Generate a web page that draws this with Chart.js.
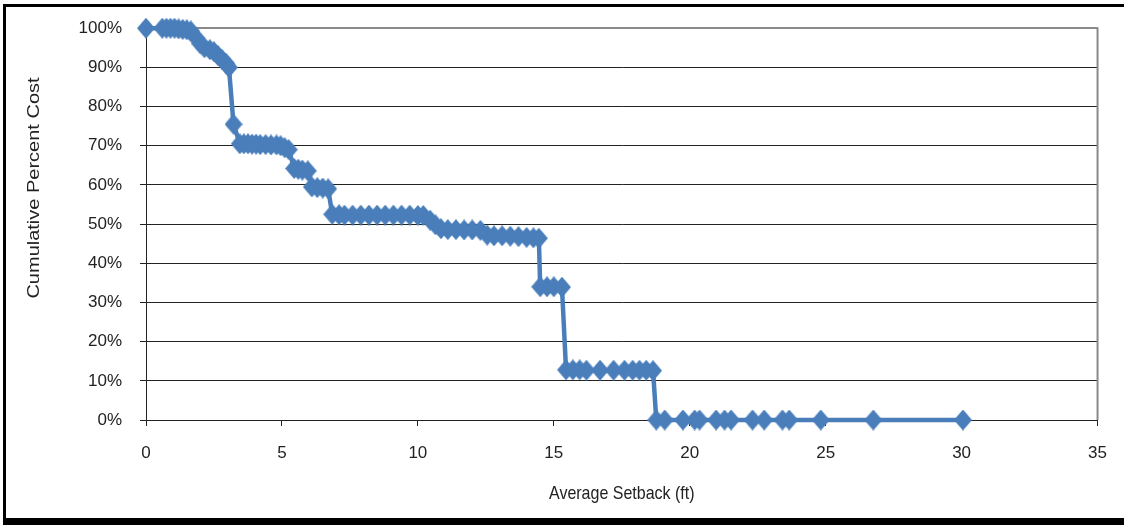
<!DOCTYPE html>
<html>
<head>
<meta charset="utf-8">
<script src="https://cdn.jsdelivr.net/npm/chart.js@4/dist/chart.umd.min.js"></script>
<style>
  html, body { margin: 0; padding: 0; background: #fff; overflow: hidden; }
  #frame {
    position: absolute; left: 3px; top: 4px;
    width: 1130px; height: 511px;
    border: 3px solid #000; border-bottom-width: 7px;
  }
  #chart { position: absolute; left: 0; top: 0; }
</style>
</head>
<body>
<div id="frame"></div>
<canvas id="chart" width="1124" height="525"></canvas>
<script>
// Average setback (ft) for each property, sorted
const setback = [
  0, 0.6, 0.75, 0.9, 1.05, 1.2, 1.35, 1.5, 1.65,
  1.85, 2.0, 2.15, 2.35, 2.5, 2.65, 2.8, 2.95, 3.05,
  3.22,
  3.45, 3.6, 3.75, 3.9, 4.05, 4.2, 4.4, 4.6, 4.8, 4.95, 5.1, 5.25,
  5.45, 5.6, 5.75, 5.95,
  6.1, 6.3, 6.5, 6.7,
  6.85, 7.1, 7.3, 7.6, 7.9, 8.2, 8.5, 8.8, 9.1, 9.4, 9.7, 10.0, 10.2,
  10.45, 10.65, 10.85, 11.1, 11.4, 11.7, 12.0, 12.3,
  12.55, 12.8, 13.1, 13.4, 13.7, 14.0, 14.25, 14.45,
  14.5, 14.75, 15.0, 15.3,
  15.45, 15.7, 15.95, 16.2, 16.7, 17.2, 17.6, 17.9, 18.15, 18.4, 18.65,
  18.77, 19.08, 19.75, 20.18, 20.36, 20.97, 21.28, 21.52, 22.31, 22.74,
  23.41, 23.66, 24.82, 26.75, 30.05
];

// Cumulative percent cost at each setback
const cumPercent = [
  100, 100, 100, 100, 100, 99.8, 99.7, 99.6, 99.3,
  97.5, 96, 95, 94.5, 94, 93, 92, 91, 90,
  75.5,
  70.5, 70.5, 70.5, 70.4, 70.4, 70.3, 70.3, 70.2, 70.2, 70, 69.5, 69,
  64.2, 64, 63.8, 63.6,
  59.5, 59.3, 59.2, 59,
  52.5, 52.4, 52.3, 52.3, 52.3, 52.3, 52.3, 52.3, 52.3, 52.3, 52.3, 52.2, 52.2,
  51, 49.8, 48.8, 48.6, 48.6, 48.5, 48.5, 48.4,
  47.2, 47, 47, 46.9, 46.8, 46.6, 46.5, 46.4,
  34, 34, 34, 33.9,
  12.8, 12.8, 12.8, 12.7, 12.7, 12.7, 12.7, 12.7, 12.7, 12.7, 12.6,
  0, 0, 0, 0, 0, 0, 0, 0, 0, 0,
  0, 0, 0, 0, 0
];

const xTitle = 'Average Setback (ft)';
const yTitle = 'Cumulative Percent Cost';

const blue = '#4a7ebb';
const ink = '#222222';
const frameGray = '#8a8a8a';
const family = '"Liberation Sans", Arial, sans-serif';
const tickFont = { family: family, size: 17 };
const titleFont = { family: family, size: 16 };

const points = setback.map((x, i) => ({ x: x, y: cumPercent[i] }));

// the original markers are diamonds a bit taller than wide
function diamond(w, h) {
  const c = document.createElement('canvas');
  c.width = w; c.height = h;
  const g = c.getContext('2d');
  g.fillStyle = blue;
  g.beginPath();
  g.moveTo(w / 2, 0);
  g.lineTo(w, h / 2);
  g.lineTo(w / 2, h);
  g.lineTo(0, h / 2);
  g.closePath();
  g.fill();
  return c;
}

// gray plot-area border on the right + axis titles (stretched like the original)
const plotExtras = {
  id: 'plotExtras',
  afterDraw(chart) {
    const { ctx, chartArea } = chart;
    ctx.save();
    ctx.strokeStyle = frameGray;
    ctx.lineWidth = 2;
    ctx.beginPath();
    ctx.moveTo(chartArea.right, chartArea.top - 1);
    ctx.lineTo(chartArea.right, chartArea.bottom);
    ctx.stroke();

    ctx.fillStyle = ink;
    ctx.font = titleFont.size + 'px ' + family;
    ctx.textAlign = 'center';
    ctx.textBaseline = 'middle';

    ctx.save();
    ctx.translate((chartArea.left + chartArea.right) / 2, 494);
    ctx.scale(1, 1.2);
    ctx.fillText(xTitle, 0, 0);
    ctx.restore();

    ctx.translate(35, 188);
    ctx.rotate(-Math.PI / 2);
    ctx.scale(1.25, 1);
    ctx.fillText(yTitle, 0, 0);
    ctx.restore();
  }
};

new Chart(document.getElementById('chart'), {
  type: 'scatter',
  data: {
    datasets: [{
      data: points,
      showLine: true,
      clip: false,
      borderColor: blue,
      borderWidth: 4.5,
      pointStyle: diamond(18, 21),
      pointRadius: 9
    }]
  },
  options: {
    responsive: false,
    animation: false,
    events: [],
    layout: { padding: { left: 0, right: 23, top: 28, bottom: 0 } },
    plugins: { legend: { display: false }, tooltip: { enabled: false } },
    scales: {
      x: {
        type: 'linear', min: 0, max: 35,
        ticks: { stepSize: 5, color: ink, font: tickFont, padding: 17, maxRotation: 0 },
        grid: { drawOnChartArea: false, drawTicks: true, tickLength: 6, tickColor: ink },
        border: { color: ink, width: 1 },
        afterFit: s => { s.height = 105; }
      },
      y: {
        min: 0, max: 100,
        ticks: { stepSize: 10, color: ink, font: tickFont, padding: 18, callback: v => v + '%' },
        grid: {
          color: c => c.tick && c.tick.value === 100 ? frameGray : ink,
          lineWidth: c => c.tick && c.tick.value === 100 ? 2 : 1,
          tickColor: ink, tickLength: 6
        },
        border: { color: ink, width: 1 },
        afterFit: s => { s.width = 146; }
      }
    }
  },
  plugins: [plotExtras]
});
</script>
</body>
</html>
